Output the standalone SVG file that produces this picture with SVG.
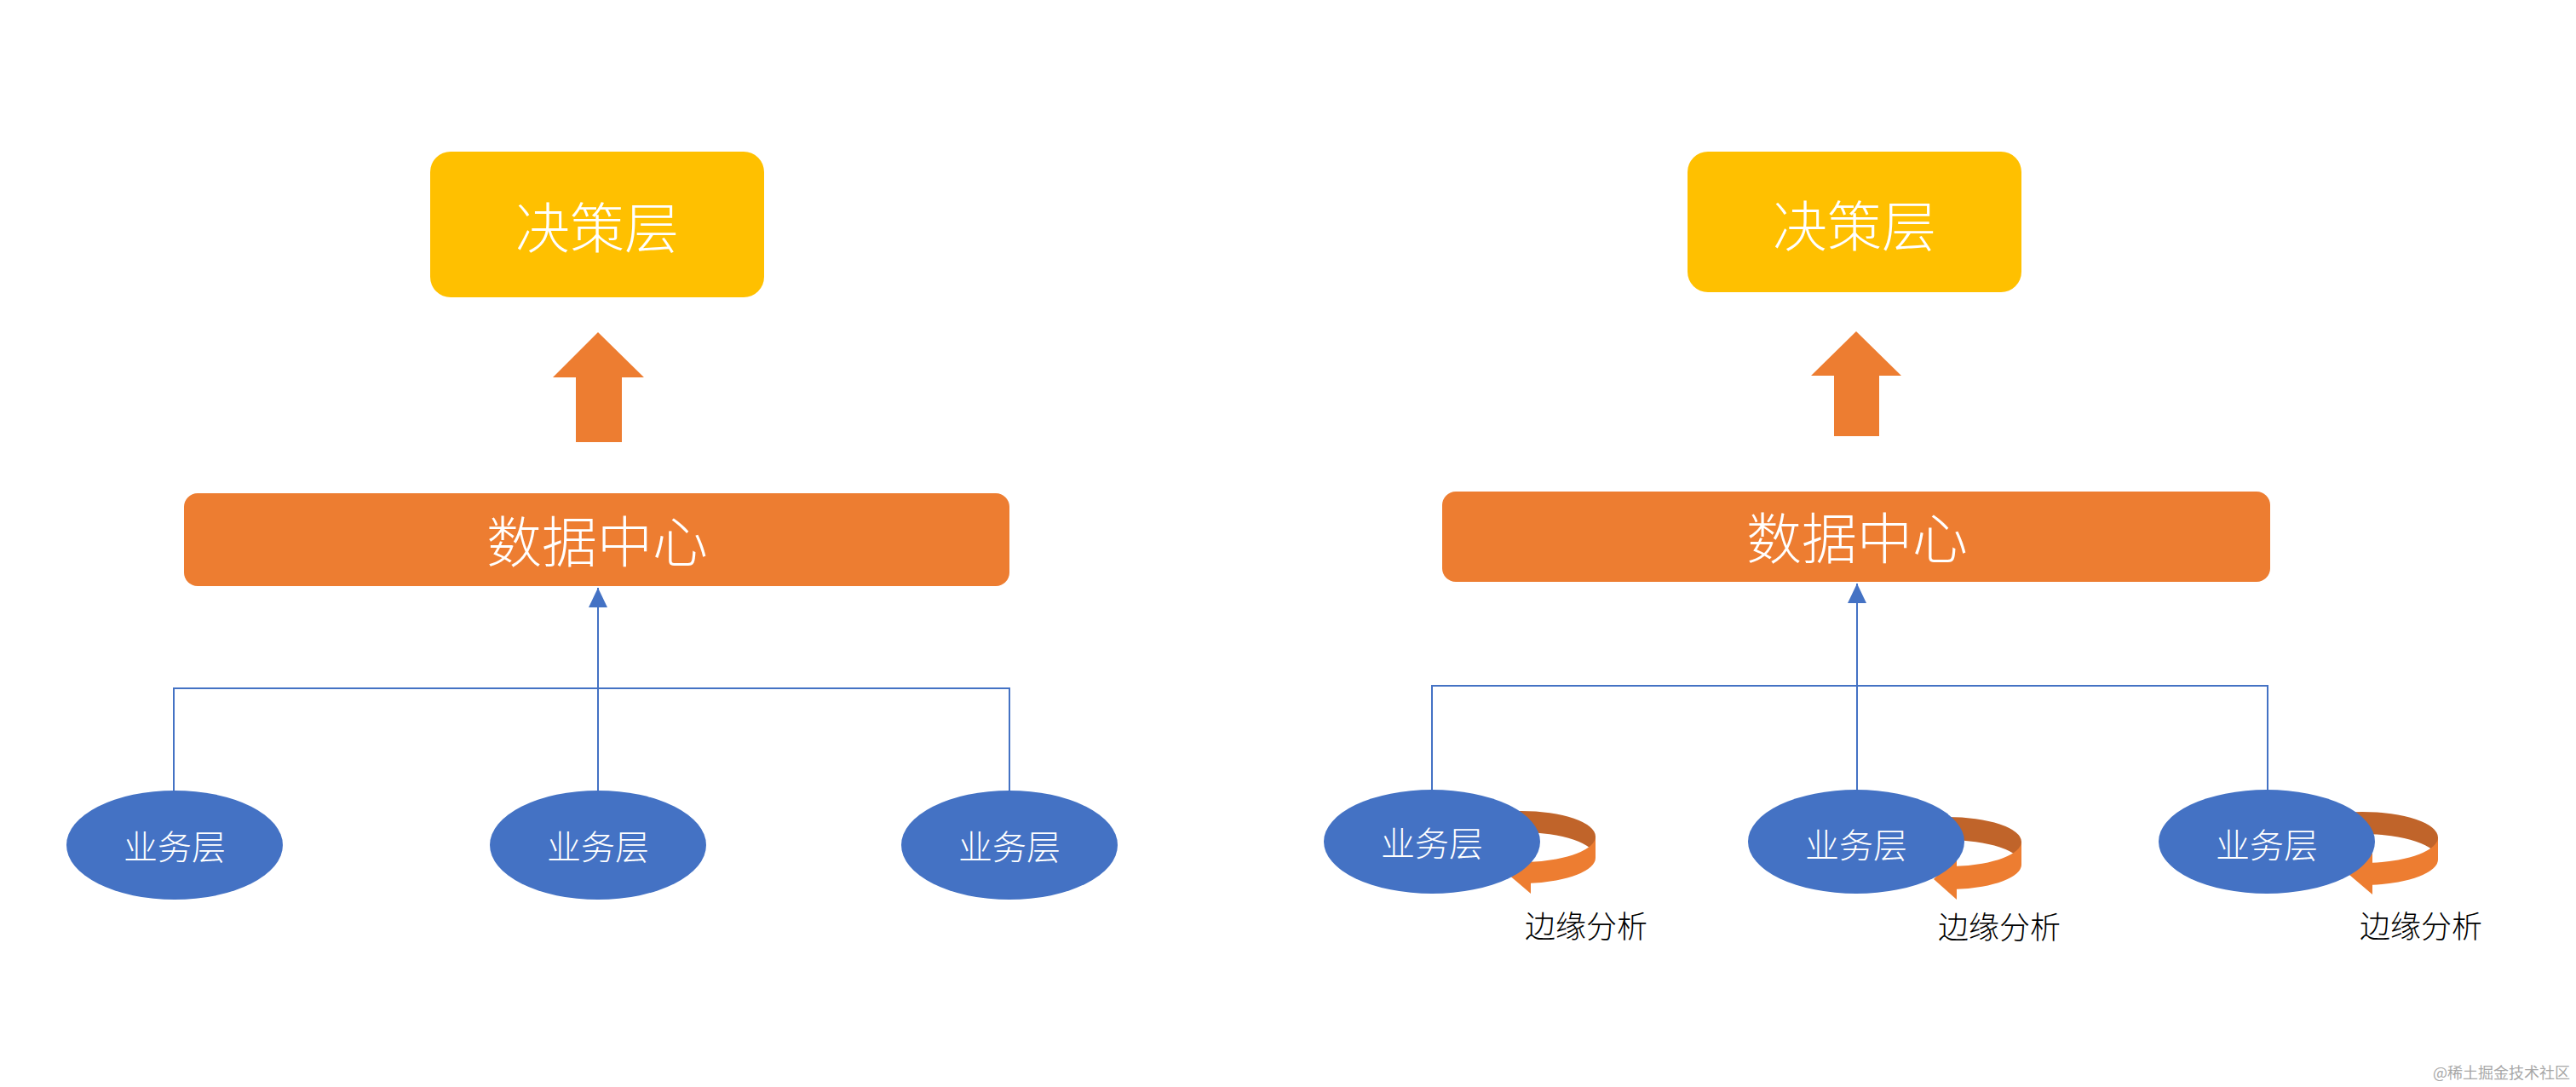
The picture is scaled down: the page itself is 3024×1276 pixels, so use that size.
<svg xmlns="http://www.w3.org/2000/svg" width="3024" height="1276" viewBox="0 0 3024 1276">
<style>
.t{font-family:"Noto Sans CJK SC","Noto Sans",sans-serif;text-anchor:middle;dominant-baseline:central;font-weight:300}
.w{fill:#FFFFFF}
.dec{fill:#FFC000}
.dc{fill:#ED7D31}
.biz{fill:#4472C4}
.blk{fill:#ED7D31}
.back{fill:#C0642A}
.front{fill:#ED7D31}
.conn{fill:none;stroke:#4472C4;stroke-width:2}
.lbl{fill:#000000;font-size:36px}
</style>
<defs>
<marker id="ah" markerUnits="userSpaceOnUse" markerWidth="24" markerHeight="24" refX="23" refY="11" orient="auto">
<path d="M0,0 L23,11 L0,22 Z" fill="#4472C4"/>
</marker>
</defs>
<rect width="3024" height="1276" fill="#FFFFFF"/>

<g id="connectors">
<path class="conn" d="M204,929 V808 H1185 V929"/>
<path class="conn" d="M702,929 V690" marker-end="url(#ah)"/>
<path class="conn" d="M1681,928 V805 H2662 V928"/>
<path class="conn" d="M2180,928 V685" marker-end="url(#ah)"/>
<polygon class="blk" points="702,390 756,443 730,443 730,519 676,519 676,443 649,443"/>
<polygon class="blk" points="2179,389 2232,441 2206,441 2206,512 2153,512 2153,441 2126,441"/>
</g>

<g id="left-decision">
<rect class="dec" x="505" y="178" width="392" height="171" rx="24"/>
<text class="t w" x="701" y="263" font-size="64">决策层</text>
</g>
<g id="left-datacenter">
<rect class="dc" x="216" y="579" width="969" height="109" rx="16"/>
<text class="t w" x="701" y="632" font-size="65">数据中心</text>
</g>
<g id="left-biz1">
<ellipse class="biz" cx="205" cy="992" rx="127" ry="64"/>
<text class="t w" x="205" y="992" font-size="40">业务层</text>
</g>
<g id="left-biz2">
<ellipse class="biz" cx="702" cy="992" rx="127" ry="64"/>
<text class="t w" x="702" y="992" font-size="40">业务层</text>
</g>
<g id="left-biz3">
<ellipse class="biz" cx="1185" cy="992" rx="127" ry="64"/>
<text class="t w" x="1185" y="992" font-size="40">业务层</text>
</g>

<g id="right-decision">
<rect class="dec" x="1981" y="178" width="392" height="165" rx="24"/>
<text class="t w" x="2177" y="261" font-size="64">决策层</text>
</g>
<g id="right-datacenter">
<rect class="dc" x="1693" y="577" width="972" height="106" rx="16"/>
<text class="t w" x="2180" y="628" font-size="65">数据中心</text>
</g>

<g id="right-biz1">
<path class="back" d="M1699,982 A87,30 0 0 1 1873,982 L1873,1007 A87,30 0 0 0 1699,1007 Z"/>
<path class="front" d="M1873,982 A87,30 0 0 1 1797,1011.8 L1797,1000 L1770,1026 L1797,1049 L1797,1036.8 A87,30 0 0 0 1873,1007 Z"/>
<ellipse class="biz" cx="1681" cy="988" rx="127" ry="61"/>
<text class="t w" x="1681" y="988" font-size="40">业务层</text>
<text class="t lbl" x="1862" y="1085">边缘分析</text>
</g>
<g id="right-biz2">
<path class="back" d="M2199,988 A87,29 0 0 1 2373,988 L2373,1015 A87,29 0 0 0 2199,1015 Z"/>
<path class="front" d="M2373,988 A87,29 0 0 1 2297,1016.8 L2297,1004 L2270,1032 L2297,1056 L2297,1043.8 A87,29 0 0 0 2373,1015 Z"/>
<ellipse class="biz" cx="2179" cy="988" rx="127" ry="61"/>
<text class="t w" x="2179" y="990" font-size="40">业务层</text>
<text class="t lbl" x="2347" y="1086">边缘分析</text>
</g>
<g id="right-biz3">
<path class="back" d="M2684,983 A89,30 0 0 1 2862,983 L2862,1009 A89,30 0 0 0 2684,1009 Z"/>
<path class="front" d="M2862,983 A89,30 0 0 1 2785,1012.7 L2785,1001 L2758,1027 L2785,1050 L2785,1038.7 A89,30 0 0 0 2862,1009 Z"/>
<ellipse class="biz" cx="2661" cy="988" rx="127" ry="61"/>
<text class="t w" x="2661" y="990" font-size="40">业务层</text>
<text class="t lbl" x="2842" y="1085">边缘分析</text>
</g>

<text x="3017" y="1258" font-family="'Noto Sans CJK SC','Noto Sans',sans-serif" font-size="18" fill="#A8A8A8" text-anchor="end" dominant-baseline="central">@稀土掘金技术社区</text>
</svg>
